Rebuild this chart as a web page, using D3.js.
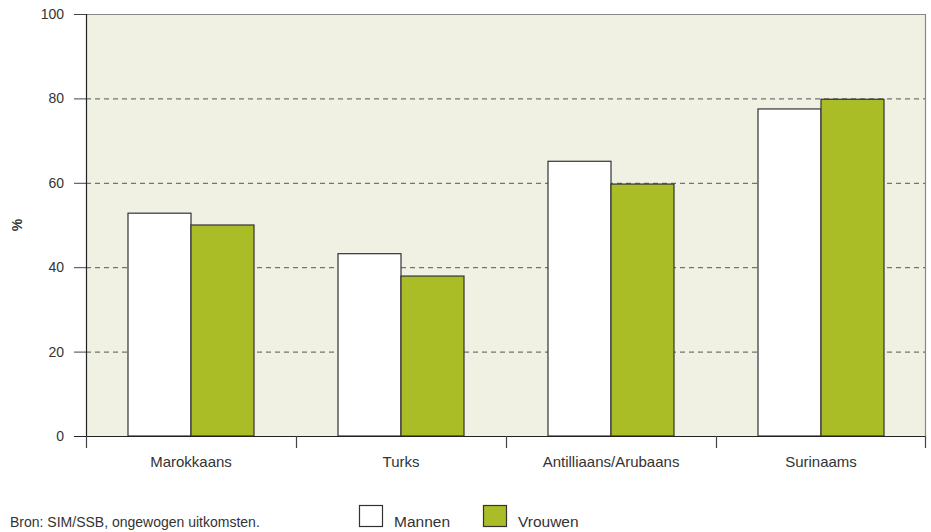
<!DOCTYPE html>
<html>
<head>
<meta charset="utf-8">
<script src="https://cdn.jsdelivr.net/npm/d3@7"></script>
<style>
  body { margin: 0; background: #fff; }
  text { font-family: "Liberation Sans", Arial, sans-serif; fill: #333; }
</style>
</head>
<body>
<svg id="chart"></svg>
<script>
// categories + values (percent)
var categories = ["Marokkaans", "Turks", "Antilliaans/Arubaans", "Surinaams"];
var seriesNames = ["Mannen", "Vrouwen"];
var mannen = [52.8, 43.2, 65.1, 77.5];
var vrouwen = [50.0, 37.9, 59.7, 79.8];
var yTicks = [0, 20, 40, 60, 80, 100];
var colors = ["#ffffff", "#aabd26"];

var svgWidth = 931, svgHeight = 532;
var margin = { top: 14, right: 5, bottom: 96, left: 86 };
var width = svgWidth - margin.left - margin.right;
var height = svgHeight - margin.top - margin.bottom;

var svg = d3.select("#chart")
    .attr("width", svgWidth)
    .attr("height", svgHeight);

var g = svg.append("g")
    .attr("transform", "translate(" + margin.left + "," + margin.top + ")");

// scales
var x0 = d3.scaleBand().domain(categories).range([0, width]).paddingInner(0).paddingOuter(0);
var x1 = d3.scaleBand().domain(seriesNames).range([x0.bandwidth() * 0.2, x0.bandwidth() * 0.8]);
var y = d3.scaleLinear().domain([0, 100]).range([height, 0]);

// plot background
g.append("rect")
    .attr("width", width)
    .attr("height", height)
    .attr("fill", "#f0f0e3");

// grid lines
g.append("g")
    .selectAll("line")
    .data(yTicks.filter(function (d) { return d > 0 && d < 100; }))
    .enter().append("line")
    .attr("x1", 0).attr("x2", width)
    .attr("y1", function (d) { return y(d) + 0.5; })
    .attr("y2", function (d) { return y(d) + 0.5; })
    .attr("stroke", "#555")
    .attr("stroke-width", 1)
    .attr("stroke-dasharray", "5,4");

// top + right border
g.append("line")
    .attr("x1", 0).attr("x2", width)
    .attr("y1", y(100) + 0.5).attr("y2", y(100) + 0.5)
    .attr("stroke", "#888").attr("stroke-width", 1.2);
g.append("line")
    .attr("x1", width - 0.5).attr("x2", width - 0.5)
    .attr("y1", 0).attr("y2", height)
    .attr("stroke", "#888").attr("stroke-width", 1.2);

// bars
var data = categories.map(function (c, i) {
    return { cat: c, values: [{ key: "Mannen", v: mannen[i] }, { key: "Vrouwen", v: vrouwen[i] }] };
});

var groups = g.selectAll(".grp")
    .data(data)
    .enter().append("g")
    .attr("transform", function (d) { return "translate(" + x0(d.cat) + ",0)"; });

groups.selectAll("rect")
    .data(function (d) { return d.values; })
    .enter().append("rect")
    .attr("x", function (d) { return x1(d.key); })
    .attr("y", function (d) { return y(d.v); })
    .attr("width", x1.bandwidth())
    .attr("height", function (d) { return height - y(d.v); })
    .attr("fill", function (d, i) { return colors[i]; })
    .attr("stroke", "#333")
    .attr("stroke-width", 1.2);

// y axis
var yAxis = g.append("g")
    .call(d3.axisLeft(y).tickValues(yTicks).tickSize(12).tickPadding(10));
yAxis.select(".domain").attr("stroke", "#222").attr("stroke-width", 1.2)
    .attr("d", "M0.5," + height + "V0");
yAxis.selectAll(".tick line").attr("stroke", "#444");
yAxis.selectAll(".tick text").style("font-size", "14px").attr("fill", "#333")
    .style("font-family", "'Liberation Sans', Arial, sans-serif");

// x axis
var xAxis = g.append("g")
    .attr("transform", "translate(0," + height + ")")
    .call(d3.axisBottom(x0).tickSize(0).tickPadding(20));
xAxis.select(".domain").remove();
xAxis.selectAll(".tick text").style("font-size", "15px").attr("fill", "#333")
    .style("font-family", "'Liberation Sans', Arial, sans-serif");

// baseline + category separators
g.append("line")
    .attr("x1", -12).attr("x2", width)
    .attr("y1", height + 0.5).attr("y2", height + 0.5)
    .attr("stroke", "#222").attr("stroke-width", 1.2);
g.append("g")
    .selectAll("line")
    .data(categories.concat(["end"]))
    .enter().append("line")
    .attr("x1", function (d, i) { return i * x0.step() + (i === categories.length ? -0.5 : 0.5); })
    .attr("x2", function (d, i) { return i * x0.step() + (i === categories.length ? -0.5 : 0.5); })
    .attr("y1", height).attr("y2", height + 12)
    .attr("stroke", "#444").attr("stroke-width", 1.2);

// y label
svg.append("text")
    .attr("transform", "translate(22,225) rotate(-90)")
    .attr("text-anchor", "middle")
    .style("font-size", "14px")
    .style("font-weight", "bold")
    .text("%");

// legend
var legend = svg.append("g").attr("transform", "translate(359,505)");
seriesNames.forEach(function (s, i) {
    var lg = legend.append("g").attr("transform", "translate(" + (i * 124) + ",0)");
    lg.append("rect")
        .attr("x", 0.5).attr("y", 0.5)
        .attr("width", 23).attr("height", 21)
        .attr("fill", colors[i])
        .attr("stroke", "#333").attr("stroke-width", 1.2);
    lg.append("text")
        .attr("x", 35).attr("y", 22)
        .style("font-size", "15.5px")
        .text(s);
});

// source
svg.append("text")
    .attr("x", 10).attr("y", 527)
    .style("font-size", "14px")
    .text("Bron: SIM/SSB, ongewogen uitkomsten.");
</script>
</body>
</html>
